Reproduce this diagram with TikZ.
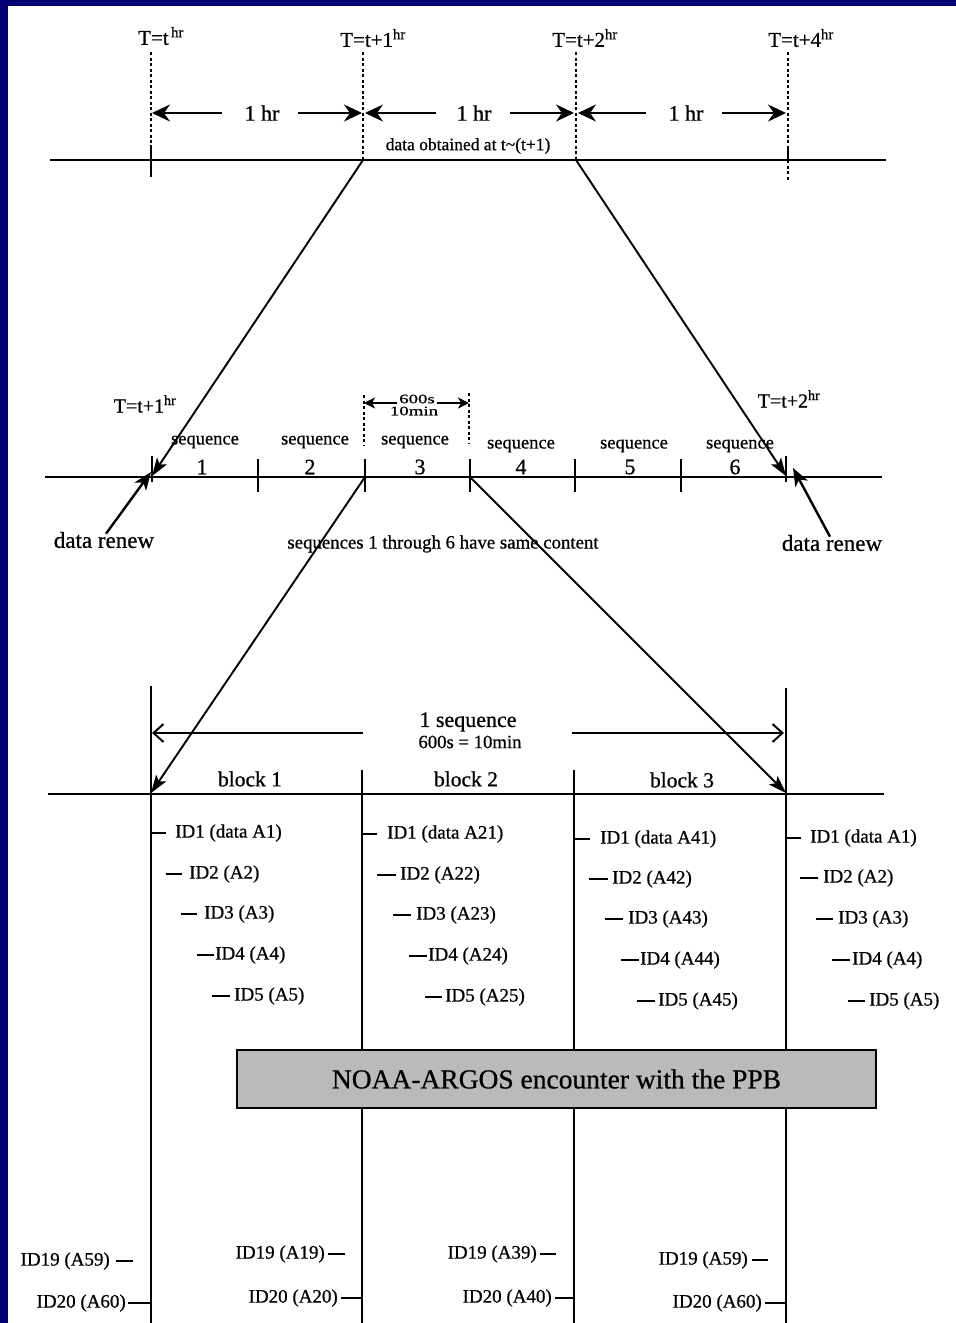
\documentclass[tikz,border=0pt]{standalone}
\usepackage{fontspec}
\setmainfont{Liberation Serif}[FakeBold=0.7]
\usepackage{graphicx}
\usetikzlibrary{arrows.meta}
\definecolor{framenavy}{RGB}{0,0,112}
\definecolor{boxgray}{RGB}{186,186,186}
\tikzset{
  fs/.style={font=\fontsize{#1}{#1}\selectfont, inner sep=0pt},
  axisline/.style={line width=2.2pt},
  tickline/.style={line width=1.8pt},
  guide/.style={line width=1.6pt, dash pattern=on 3pt off 2.5pt},
  vline/.style={line width=1.6pt},
  hrarrow/.style={line width=2.6pt, -{Stealth[length=18pt,width=17pt,inset=6pt]}},
  smallarrow/.style={line width=2pt, -{Stealth[length=11pt,width=11pt,inset=3pt]}},
  link/.style={line width=1.9pt, -{Stealth[length=18pt,width=12pt,inset=4pt]}},
  seqarrow/.style={line width=2pt, -{Straight Barb[length=10pt,width=18pt,line width=2pt]}},
  renewarrow/.style={line width=2.4pt, -{Stealth[length=18pt,width=14pt,inset=5pt]}},
  iddash/.style={line width=2.4pt},
  idtext/.style={fs=19, anchor=west},
  idtextr/.style={fs=19, anchor=east},
  noaabox/.style={draw=black, line width=2pt, fill=boxgray, minimum width=639pt, minimum height=58pt, inner sep=0pt, font=\fontsize{27.5}{27.5}\selectfont}
}
\begin{document}
\begin{tikzpicture}[x=1pt,y=-1pt]
% background and frame
\fill[white] (0,0) rectangle (956,1323);
\fill[framenavy] (0,0) rectangle (956,6);
\fill[framenavy] (0,0) rectangle (8,1323);
\useasboundingbox (0,0) rectangle (956,1323);

% ================= TOP TIMELINE =================
\coordinate (L1a) at (50,160);
\coordinate (L1b) at (886,160);
\coordinate (p0) at (151,160);
\coordinate (p1) at (363,160);
\coordinate (p2) at (576,160);
\coordinate (p3) at (788,160);
\draw[axisline] (L1a) -- (L1b);

\node[fs=21] (Ta) at (161,36) {T=t\textsuperscript{\,hr}};
\node[fs=21] (Tb) at (373,38) {T=t+1\textsuperscript{hr}};
\node[fs=21] (Tc) at (585,38) {T=t+2\textsuperscript{hr}};
\node[fs=21] (Td) at (801,38) {T=t+4\textsuperscript{hr}};

\draw[guide] (151,52) -- (151,145);
\draw[tickline] (151,145) -- (151,177);
\draw[guide] (363,52) -- (363,160);
\draw[guide] (576,52) -- (576,160);
\draw[guide] (788,52) -- (788,146);
\draw[tickline] (788,146) -- (788,160);
\draw[guide] (788,160) -- (788,180);

\node[fs=22] (h1) at (262,113) {1 hr};
\node[fs=22] (h2) at (474,113) {1 hr};
\node[fs=22] (h3) at (686,113) {1 hr};
\coordinate (h1l) at (152,113); \coordinate (h1r) at (362,113);
\coordinate (h2l) at (365,113); \coordinate (h2r) at (574,113);
\coordinate (h3l) at (578,113); \coordinate (h3r) at (786,113);
\draw[hrarrow] ([xshift=-22pt]h1.west) -- (h1l);
\draw[hrarrow] ([xshift=18pt]h1.east) -- (h1r);
\draw[hrarrow] ([xshift=-20pt]h2.west) -- (h2l);
\draw[hrarrow] ([xshift=18pt]h2.east) -- (h2r);
\draw[hrarrow] ([xshift=-22pt]h3.west) -- (h3l);
\draw[hrarrow] ([xshift=18pt]h3.east) -- (h3r);

\node[fs=17.5] (obt) at (468,146) {data obtained at t\textasciitilde(t+1)};

% ================= MIDDLE TIMELINE =================
\coordinate (L2a) at (45,477);
\coordinate (L2b) at (882,477);
\draw[axisline] (L2a) -- (L2b);
\coordinate (s0) at (152,476);
\coordinate (s1) at (258,477);
\coordinate (s2) at (365,477);
\coordinate (s3) at (470,477);
\coordinate (s4) at (575,477);
\coordinate (s5) at (681,477);
\coordinate (s6) at (786,476);
\foreach \c in {s1,s2,s3,s4,s5}{
  \draw[tickline] ([yshift=-15pt]\c) -- ([yshift=18pt]\c);
}
\draw[tickline] ([yshift=-6pt]s0) -- ([yshift=20pt]s0);
\draw[tickline] ([yshift=-6pt]s6) -- ([yshift=20pt]s6);

\node[fs=18.5] (q1) at (205,442) {sequence};
\node[fs=18.5] (q2) at (315,442) {sequence};
\node[fs=18.5] (q3) at (415,442) {sequence};
\node[fs=18.5] (q4) at (521,446) {sequence};
\node[fs=18.5] (q5) at (634,446) {sequence};
\node[fs=18.5] (q6) at (740,446) {sequence};
\node[fs=22] (n1) at (202,467) {1};
\node[fs=22] (n2) at (310,467) {2};
\node[fs=22] (n3) at (420,467) {3};
\node[fs=22] (n4) at (521,467) {4};
\node[fs=22] (n5) at (630,467) {5};
\node[fs=22] (n6) at (735,467) {6};

\node[fs=20] (Tm1) at (145,404) {T=t+1\textsuperscript{hr}};
\node[fs=20] (Tm2) at (789,399) {T=t+2\textsuperscript{hr}};

% 600s / 10min interval
\draw[guide] (364,395) -- (364,446);
\draw[guide] (469,393) -- (469,444);
\node[fs=13] (six) at (417,399) {\scalebox{1.45}[1]{600s}};
\node[fs=13] (ten) at (414,411) {\scalebox{1.45}[1]{10min}};
\coordinate (ml) at (364,403);
\coordinate (mr) at (469,403);
\draw[smallarrow] (397,403) -- (ml);
\draw[smallarrow] (437,403) -- (mr);

% data renew
\node[fs=23] (dr1) at (104,540) {data renew};
\node[fs=23] (dr2) at (832,543) {data renew};
\draw[renewarrow] ([xshift=2pt,yshift=-2pt]dr1.north) -- ([xshift=-1pt,yshift=4pt]s0);
\draw[renewarrow] ([xshift=-2pt,yshift=-2pt]dr2.north) -- ([xshift=7pt,yshift=8pt]s6);

\node[fs=18.8] (same) at (443,544) {sequences 1 through 6 have same content};

% top -> middle connectors
\draw[link] (p1) -- (s0);
\draw[link] (p2) -- (s6);

% ================= BOTTOM (one sequence) =================
\coordinate (L3a) at (48,794);
\coordinate (L3b) at (884,794);
\draw[axisline] (L3a) -- (L3b);
\coordinate (b0) at (151,793);
\coordinate (b1) at (362,794);
\coordinate (b2) at (574,794);
\coordinate (b3) at (786,793);
\draw[vline] (151,686) -- (151,1323);
\draw[vline] (362,770) -- (362,1323);
\draw[vline] (574,770) -- (574,1323);
\draw[vline] (786,688) -- (786,1323);

\node[fs=22] (oneseq) at (468,722) {1 sequence};
\node[fs=18.7] (secs) at (470,742) {600s = 10min};
\coordinate (sql) at (152,733);
\coordinate (sqr) at (784,733);
\draw[seqarrow] (363,733) -- (sql);
\draw[seqarrow] (572,733) -- (sqr);

\node[fs=21.5] (blk1) at (250,779) {block 1};
\node[fs=21.5] (blk2) at (466,779) {block 2};
\node[fs=21.5] (blk3) at (682,780) {block 3};

% middle -> bottom connectors
\draw[link] (s2) -- (b0);
\draw[link] (s3) -- (b3);

% ---- ID lists ----
% block 1
\node[idtext] (a1) at (175,833) {ID1 (data A1)};
\node[idtext] (a2) at (189,874) {ID2 (A2)};
\node[idtext] (a3) at (204,914) {ID3 (A3)};
\node[idtext] (a4) at (215,955) {ID4 (A4)};
\node[idtext] (a5) at (234,996) {ID5 (A5)};
\draw[iddash] (152,833) -- ([xshift=-9pt]a1.west);
\draw[iddash] (166,874) -- ([xshift=-7pt]a2.west);
\draw[iddash] (181,914) -- ([xshift=-7pt]a3.west);
\draw[iddash] (197,955) -- ([xshift=-1pt]a4.west);
\draw[iddash] (212,996) -- ([xshift=-4pt]a5.west);
% block 2
\node[idtext] (c1) at (387,834) {ID1 (data A21)};
\node[idtext] (c2) at (400,875) {ID2 (A22)};
\node[idtext] (c3) at (416,915) {ID3 (A23)};
\node[idtext] (c4) at (428,956) {ID4 (A24)};
\node[idtext] (c5) at (445,997) {ID5 (A25)};
\draw[iddash] (363,834) -- ([xshift=-10pt]c1.west);
\draw[iddash] (377,875) -- ([xshift=-4pt]c2.west);
\draw[iddash] (393,915) -- ([xshift=-5pt]c3.west);
\draw[iddash] (409,956) -- ([xshift=-1pt]c4.west);
\draw[iddash] (425,997) -- ([xshift=-3pt]c5.west);
% block 3
\node[idtext] (d1) at (600,839) {ID1 (data A41)};
\node[idtext] (d2) at (612,879) {ID2 (A42)};
\node[idtext] (d3) at (628,919) {ID3 (A43)};
\node[idtext] (d4) at (640,960) {ID4 (A44)};
\node[idtext] (d5) at (658,1001) {ID5 (A45)};
\draw[iddash] (575,839) -- ([xshift=-10pt]d1.west);
\draw[iddash] (589,879) -- ([xshift=-4pt]d2.west);
\draw[iddash] (605,919) -- ([xshift=-5pt]d3.west);
\draw[iddash] (621,960) -- ([xshift=-1pt]d4.west);
\draw[iddash] (637,1001) -- ([xshift=-3pt]d5.west);
% block 4 (next sequence)
\node[idtext] (e1) at (810,838) {ID1 (data A1)};
\node[idtext] (e2) at (823,878) {ID2 (A2)};
\node[idtext] (e3) at (838,919) {ID3 (A3)};
\node[idtext] (e4) at (852,960) {ID4 (A4)};
\node[idtext] (e5) at (869,1001) {ID5 (A5)};
\draw[iddash] (787,838) -- ([xshift=-9pt]e1.west);
\draw[iddash] (800,878) -- ([xshift=-5pt]e2.west);
\draw[iddash] (816,919) -- ([xshift=-5pt]e3.west);
\draw[iddash] (832,960) -- ([xshift=-2pt]e4.west);
\draw[iddash] (848,1001) -- ([xshift=-4pt]e5.west);

% NOAA box
\node[noaabox] (noaa) at (556.5,1079) {NOAA-ARGOS encounter with the PPB};

% ID19 / ID20
\node[idtextr] (f19) at (110,1261) {ID19 (A59)};
\node[idtextr] (f20) at (126,1303) {ID20 (A60)};
\draw[iddash] ([xshift=6pt]f19.east) -- (133,1261);
\draw[iddash] ([xshift=2pt]f20.east) -- (150,1303);
\node[idtextr] (g19) at (325,1254) {ID19 (A19)};
\node[idtextr] (g20) at (338,1298) {ID20 (A20)};
\draw[iddash] ([xshift=3pt]g19.east) -- (345,1254);
\draw[iddash] ([xshift=3pt]g20.east) -- (361,1298);
\node[idtextr] (k19) at (537,1254) {ID19 (A39)};
\node[idtextr] (k20) at (552,1298) {ID20 (A40)};
\draw[iddash] ([xshift=3pt]k19.east) -- (556,1254);
\draw[iddash] ([xshift=3pt]k20.east) -- (573,1298);
\node[idtextr] (m19) at (748,1260) {ID19 (A59)};
\node[idtextr] (m20) at (762,1303) {ID20 (A60)};
\draw[iddash] ([xshift=4pt]m19.east) -- (768,1260);
\draw[iddash] ([xshift=3pt]m20.east) -- (785,1303);
\end{tikzpicture}
\end{document}
